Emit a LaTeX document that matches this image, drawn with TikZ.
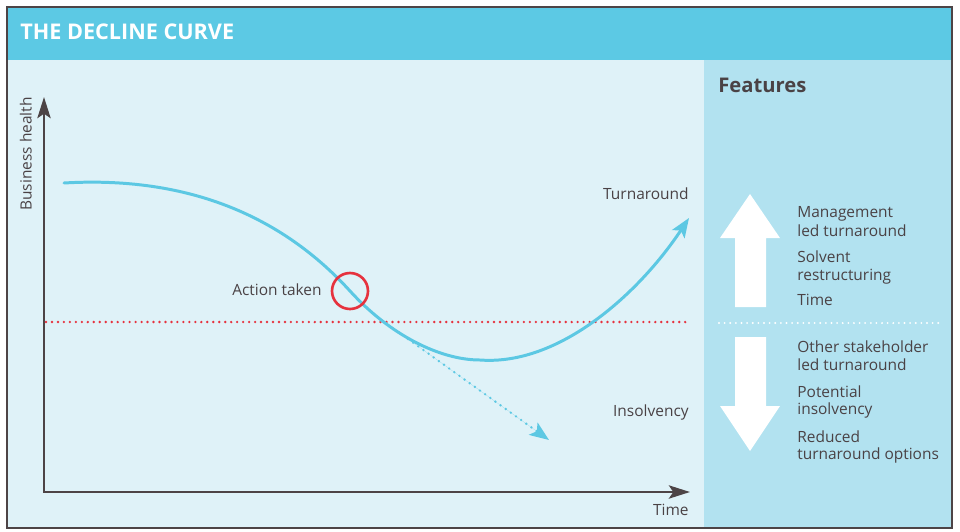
\documentclass[tikz,border=0pt]{standalone}
\usepackage{fontspec}
\setmainfont{Open Sans}
\usepackage{tikz}
\usetikzlibrary{arrows.meta}
\definecolor{figline}{RGB}{77,68,70}
\definecolor{figtext}{RGB}{74,66,69}
\definecolor{fighead}{RGB}{92,201,228}
\definecolor{figback}{RGB}{223,242,248}
\definecolor{figpanel}{RGB}{178,226,240}
\definecolor{figcurve}{RGB}{92,200,227}
\definecolor{figred}{RGB}{230,50,62}
\tikzset{
  ax/.style   ={draw=figline, line width=1.6pt, {Stealth[length=12pt,width=7.5pt,inset=2.5pt]}-{Stealth[length=12pt,width=7.5pt,inset=2.5pt]}},
  crv/.style  ={draw=figcurve, line width=1.7pt, line cap=round},
  ptr/.style  ={-{Stealth[length=11pt,width=8.5pt,inset=2.5pt]}},
  dotln/.style={line width=1.5pt, line cap=round, dash pattern=on 0pt off 3.4pt},
  lab/.style  ={font=\fontsize{8.8}{10.5}\selectfont, text=figtext, inner sep=0pt},
  labb/.style ={font=\fontsize{11.5}{14}\selectfont\bfseries, inner sep=0pt},
}

\begin{document}
\begin{tikzpicture}[x=0.02cm,y=-0.02cm]
  \fill[white] (0,0) rectangle (960,531);
  \useasboundingbox (0,0) rectangle (960,531);
  % frame, header band and side panel
  \fill[fighead] (7,7) rectangle (952,60);
  \fill[figback] (7,60) rectangle (704,528);
  \fill[figpanel] (704,60) rectangle (952,528);
  \draw[draw=figline,line width=1.2pt] (7,7) rectangle (952,528);
  \node[labb,font=\fontsize{12.3}{14}\selectfont\bfseries,text=white,anchor=base west] (title) at (20,39) {THE DECLINE CURVE};
  \node[labb,text=figtext,anchor=base west] (feat) at (718,92) {Features};

  % axes
  \coordinate (o) at (44,492);
  \coordinate (ytip) at (44,97);
  \coordinate (xtip) at (690,492);
  \draw[ax] (ytip) -- (o) -- (xtip);
  \node[lab,rotate=90,anchor=base east] (yl) at (31.5,97) {Business health};
  \node[lab,anchor=base east] (xl) at (689,515) {Time};

  % insolvency line
  \coordinate (rl) at (46,322);
  \coordinate (rr) at (690,322);
  \draw[dotln,draw=figred] (rl) -- (rr);

  % health curve
  \coordinate (c0) at (64,183);
  \coordinate (c1) at (350,291);
  \coordinate (c2) at (480,360);
  \coordinate (c3) at (689,218);
  \coordinate (d0) at (408,339);
  \coordinate (d1) at (549,440);
  \draw[crv,ptr,dotln,draw=figcurve,fill=figcurve,dash pattern=on 0pt off 3.6pt] (d0) -- (d1);
  \draw[crv,ptr] (c0) .. controls (200,175) and (290,225) .. (c1)
                      .. controls (390,335) and (440,360) .. (c2)
                      .. controls (560,366) and (640,292) .. (c3);
  \node[circle,draw=figred,line width=1.5pt,minimum size=0.72cm,inner sep=0pt] (act) at (c1) {};
  \node[lab,anchor=base east] (actl) at (322,295) {Action taken};
  \node[lab,anchor=base east] (turn) at (689,199) {Turnaround};
  \node[lab,anchor=base east] (insl) at (689,416) {Insolvency};

  % features panel
  \fill[white] (735,307) -- (735,238) -- (720,238) -- (750,194) -- (780,238) -- (766,238) -- (766,307) -- cycle;
  \fill[white] (735,337) -- (735,406) -- (720,406) -- (750,451) -- (780,406) -- (766,406) -- (766,337) -- cycle;
  \coordinate (wl) at (719,323);
  \coordinate (wr) at (940,323);
  \draw[dotln,draw=white,line width=1.2pt,dash pattern=on 0pt off 3.2pt] (wl) -- (wr);
  \foreach \yy/\tx [count=\i] in {217/Management, 236/led turnaround, 262/Solvent,
      280/restructuring, 305/Time, 352/Other stakeholder, 370/led turnaround,
      397/Potential, 414/insolvency, 442/Reduced, 459/turnaround options}
    \node[lab,anchor=base west] (f\i) at (797,\yy) {\tx};
\end{tikzpicture}
\end{document}
